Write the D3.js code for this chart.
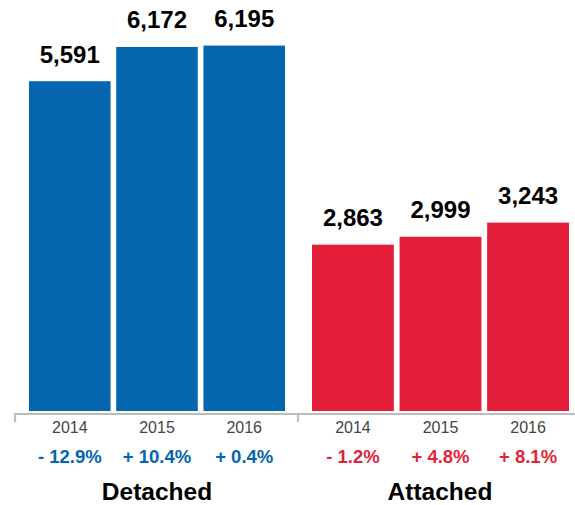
<!DOCTYPE html>
<html>
<head>
<meta charset="utf-8">
<script src="https://cdn.jsdelivr.net/npm/d3@7"></script>
<style>
  html, body { margin: 0; padding: 0; background: #fff; }
  svg { display: block; }
  text { font-family: "Liberation Sans", Arial, Helvetica, sans-serif; }
</style>
</head>
<body>
<svg id="chart" width="575" height="505"></svg>
<script>
// Housing starts by type, 2014–2016
const years = ["2014", "2015", "2016"];
const detachedValues = [5591, 6172, 6195];
const attachedValues = [2863, 2999, 3243];
const detachedChange = ["- 12.9%", "+ 10.4%", "+ 0.4%"];
const attachedChange = ["- 1.2%", "+ 4.8%", "+ 8.1%"];
const groupNames = ["Detached", "Attached"];

const BLUE = "#0565ae";
const RED = "#e31f3a";

const svg = d3.select("#chart");
const baseY = 411;
const axisY = 414;

const panels = [
  { name: groupNames[0], values: detachedValues, change: detachedChange,
    color: BLUE, x0: 29, x1: 285, yMax: 6205 },
  { name: groupNames[1], values: attachedValues, change: attachedChange,
    color: RED, x0: 312, x1: 569, yMax: 6300 }
];

panels.forEach(p => {
  const x = d3.scaleBand().domain(years).range([p.x0, p.x1]).paddingInner(0.065);
  const y = d3.scaleLinear().domain([0, p.yMax]).range([baseY, 45]);
  const g = svg.append("g");
  const rows = years.map((yr, i) => ({ yr, v: p.values[i], c: p.change[i] }));

  g.selectAll("rect").data(rows).join("rect")
    .attr("x", d => x(d.yr))
    .attr("y", d => y(d.v))
    .attr("width", x.bandwidth())
    .attr("height", d => y(0) - y(d.v))
    .attr("fill", p.color);

  g.selectAll("text.value").data(rows).join("text")
    .attr("class", "value")
    .attr("x", d => x(d.yr) + x.bandwidth() / 2)
    .attr("y", d => y(d.v) - 18.5)
    .attr("text-anchor", "middle")
    .attr("font-size", 24)
    .attr("font-weight", "bold")
    .attr("fill", "#000")
    .text(d => d3.format(",")(d.v));

  // year labels
  const ax = svg.append("g")
    .attr("transform", `translate(0,${axisY})`)
    .call(d3.axisBottom(x).tickSize(0).tickPadding(8));
  ax.select(".domain").remove();
  ax.selectAll("text")
    .attr("font-size", 16)
    .attr("fill", "#444")
    .style("font-family", "'Liberation Sans', Arial, sans-serif");

  g.selectAll("text.change").data(rows).join("text")
    .attr("class", "change")
    .attr("x", d => x(d.yr) + x.bandwidth() / 2)
    .attr("y", 463)
    .attr("text-anchor", "middle")
    .attr("font-size", 18.5)
    .attr("font-weight", "bold")
    .attr("fill", p.color)
    .text(d => d.c);

  g.append("text")
    .attr("x", (p.x0 + p.x1) / 2 + (p.name === "Detached" ? 0 : -0.5))
    .attr("y", 500)
    .attr("text-anchor", "middle")
    .attr("font-size", 24.5)
    .attr("font-weight", "bold")
    .attr("fill", "#000")
    .text(p.name);
});

// baseline with bracket ticks
svg.append("path")
  .attr("d", `M15,422V${axisY}H575M298,${axisY}V422`)
  .attr("fill", "none")
  .attr("stroke", "#bdbdbd")
  .attr("stroke-width", 2.2);
</script>
</body>
</html>
